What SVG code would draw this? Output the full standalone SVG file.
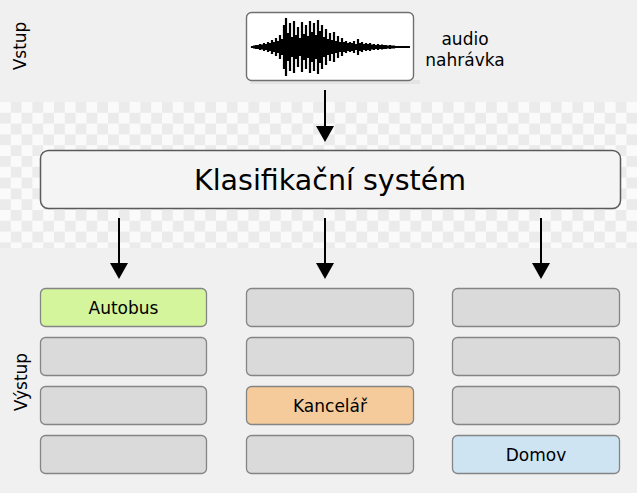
<svg xmlns="http://www.w3.org/2000/svg" width="637" height="493" viewBox="0 0 637 493">
<style>
text{font-family:"DejaVu Sans","Verdana",sans-serif;fill:#000}
.lbl{font-size:17px;text-anchor:middle}
.slot{stroke:#858585;stroke-width:1.3}
.gray{fill:#dadada}
.conn{stroke:#000;stroke-width:2;fill:none}
</style>
<defs>
<pattern id="chk" x="0" y="102" width="21.6" height="21.6" patternUnits="userSpaceOnUse">
<rect width="21.6" height="21.6" fill="#fafafa"/>
<rect x="10.8" y="0" width="10.8" height="10.8" fill="#ebebeb"/>
<rect x="0" y="10.8" width="10.8" height="10.8" fill="#ebebeb"/>
</pattern>
<marker id="ah" viewBox="0 0 16 18" refX="8" refY="9" markerWidth="16" markerHeight="18" markerUnits="userSpaceOnUse" orient="auto">
<path d="M0 0L16 9L0 18z" fill="#000"/>
</marker>
<filter id="blur" x="-5%" y="-5%" width="110%" height="110%"><feGaussianBlur stdDeviation="0.6"/></filter>
</defs>
<rect width="637" height="493" fill="#f0f0f0"/>
<rect x="0" y="102" width="637" height="146" fill="url(#chk)"/>

<g id="input-label"><text class="lbl" transform="rotate(-90 26 46)" x="26" y="46">Vstup</text></g>
<g id="output-label"><text class="lbl" transform="rotate(-90 27 382)" x="27" y="382">Výstup</text></g>

<g id="audio">
<rect x="250" y="80" width="170" height="4" fill="#e4e4e4" filter="url(#blur)"/>
<rect x="246.5" y="12.5" width="167" height="68" rx="5" fill="#fff" stroke="#707070" stroke-width="1.4"/>
<path filter="url(#blur)" stroke="#000" stroke-width="2.2" fill="none" d="M252 47H410M252 46v2M254 45.5v3M256 45v4M258 45v4M260 44v6M262 44.5v5M264 43v8M266 44v6M268 42v10M270 43v8M272 40v14M274 42v10M276 38v18M278 41v12M280 35v24M282 39v16M284 25v44M286 18v58M288 33v28M290 23v48M292 37v20M294 21v52M296 35v24M298 27v40M300 38v18M302 22v50M304 34v26M306 25v44M308 36v22M310 21v52M312 32v30M314 23v48M316 35v24M318 20v54M320 31v32M322 25v44M324 37v20M326 29v36M328 39v16M330 33v28M332 40v14M334 32v30M336 41v12M338 36v22M340 42v10M342 38v18M344 42v10M346 41v12M348 43v8M350 42v10M352 43v8M354 41v12M356 44v6M358 39v16M360 43v8M362 42v10M364 44v6M366 43v8M368 44v6M370 43v8M372 44.5v5M374 44v6M376 45v4M378 44v6M380 45v4M382 44.5v5M384 45v4M386 45v4M388 45.5v3M390 45v4M392 45.5v3M394 45.5v3M396 46v2M398 46v2M400 46v2M402 46v2M404 46.2v1.6M406 46.2v1.6M408 46.5v1"/>
<text class="lbl" x="465" y="45">audio</text>
<text class="lbl" x="465" y="66">nahrávka</text>
</g>

<g id="classifier">
<rect x="40.5" y="150.5" width="580" height="58" rx="8" fill="#f4f4f4" stroke="#5a5a5a" stroke-width="1.5"/>
<text x="330" y="190" font-size="28.5" text-anchor="middle">Klasifikační systém</text>
</g>

<g id="col1">
<g id="autobus"><rect class="slot" x="40.5" y="288.5" width="166" height="38" rx="5" fill="#d4f59b"/><text class="lbl" x="123.5" y="314">Autobus</text></g>
<rect class="slot gray" x="40.5" y="337.5" width="166" height="38" rx="5"/>
<rect class="slot gray" x="40.5" y="386.5" width="166" height="38" rx="5"/>
<rect class="slot gray" x="40.5" y="435.5" width="166" height="38" rx="5"/>
</g>
<g id="col2">
<rect class="slot gray" x="246.5" y="288.5" width="167" height="38" rx="5"/>
<rect class="slot gray" x="246.5" y="337.5" width="167" height="38" rx="5"/>
<g id="kancelar"><rect class="slot" x="246.5" y="386.5" width="167" height="38" rx="5" fill="#f5cb9c"/><text class="lbl" x="330" y="412">Kancelář</text></g>
<rect class="slot gray" x="246.5" y="435.5" width="167" height="38" rx="5"/>
</g>
<g id="col3">
<rect class="slot gray" x="452.5" y="288.5" width="167" height="38" rx="5"/>
<rect class="slot gray" x="452.5" y="337.5" width="167" height="38" rx="5"/>
<rect class="slot gray" x="452.5" y="386.5" width="167" height="38" rx="5"/>
<g id="domov"><rect class="slot" x="452.5" y="435.5" width="167" height="38" rx="5" fill="#cfe4f3"/><text class="lbl" x="536" y="461">Domov</text></g>
</g>

<g id="connectors">
<line class="conn" x1="325" y1="90" x2="325" y2="134" marker-end="url(#ah)"/>
<line class="conn" x1="119" y1="218" x2="119" y2="271" marker-end="url(#ah)"/>
<line class="conn" x1="325" y1="218" x2="325" y2="271" marker-end="url(#ah)"/>
<line class="conn" x1="541" y1="218" x2="541" y2="271" marker-end="url(#ah)"/>
</g>
</svg>
